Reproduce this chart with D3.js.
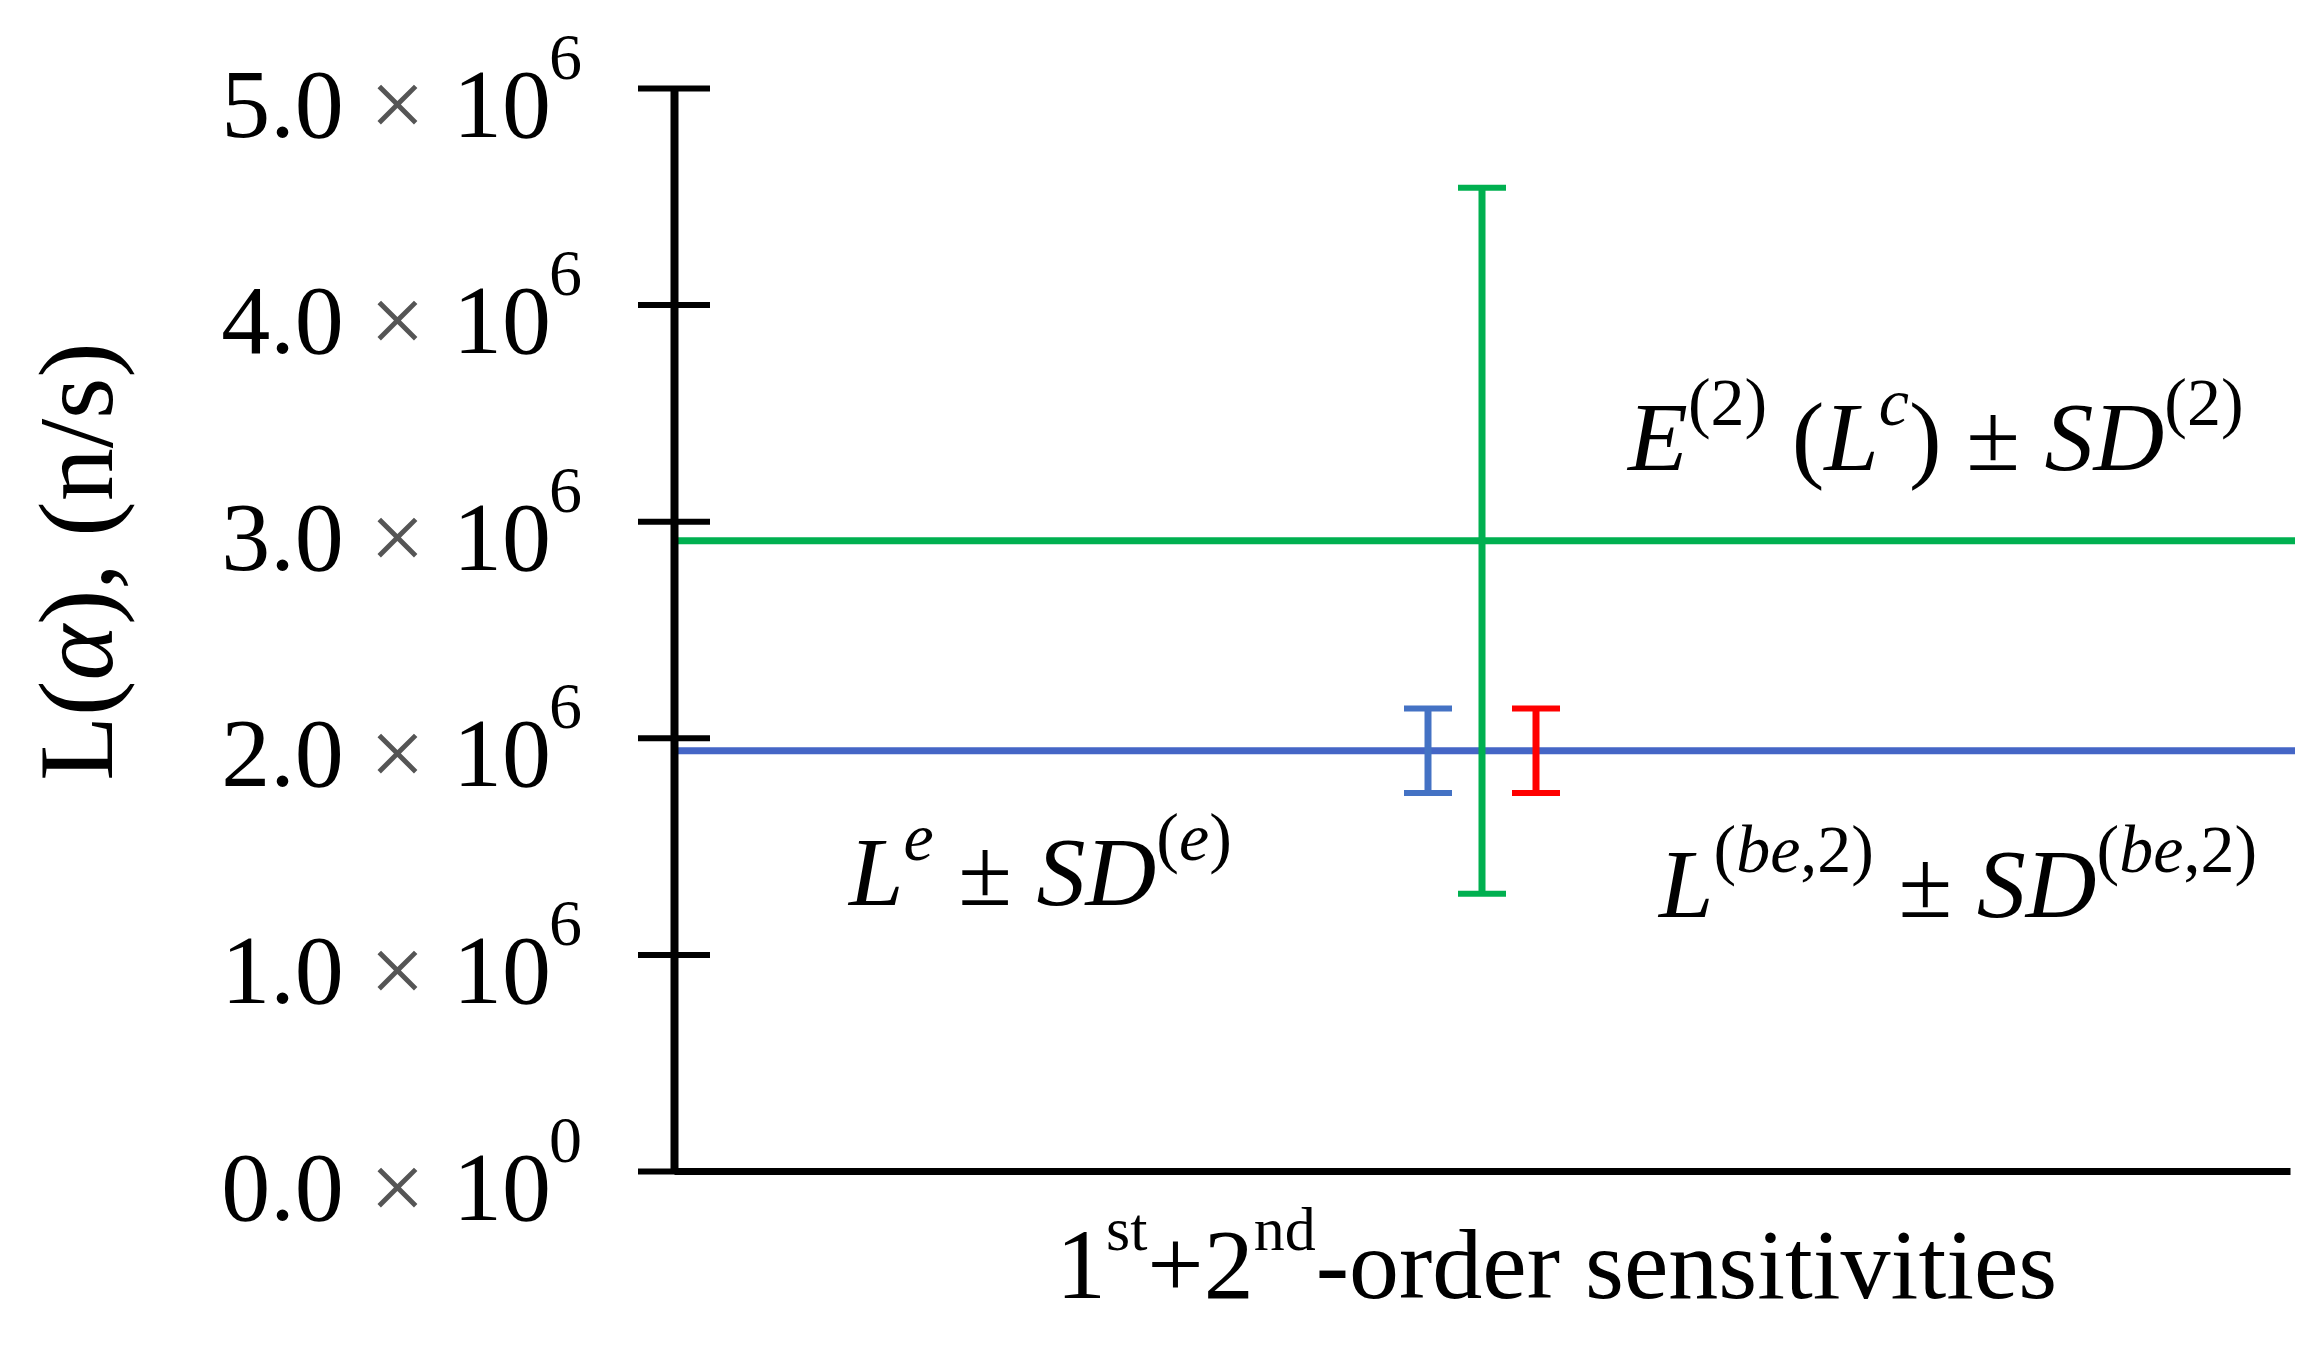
<!DOCTYPE html>
<html>
<head>
<meta charset="utf-8">
<script src="https://cdn.jsdelivr.net/npm/d3@7"></script>
<style>
  body { margin: 0; background: #fff; }
  svg { display: block; font-family: "Liberation Serif", "Times New Roman", serif; }
</style>
</head>
<body>
<svg id="chart"></svg>
<script>
// values
const categories = ["1st+2nd-order sensitivities"];
const seriesKeys = ["Le", "E2Lc", "Lbe2"];
const seriesMeans = [1.94e6, 2.91e6, 1.94e6];
const seriesSD = [0.195e6, 1.63e6, 0.195e6];
const seriesColors = ["#4472C4", "#00B050", "#FF0000"];
const refLineKeys = ["E2Lc", "Le"];
const refLineColors = ["#00B050", "#4566C6"];
const yTickValues = [0, 1e6, 2e6, 3e6, 4e6, 5e6];
const yTickMantissa = ["0.0", "1.0", "2.0", "3.0", "4.0", "5.0"];
const yTickExponent = ["0", "6", "6", "6", "6", "6"];

// label pieces: [text, italic, superscript]
const labelE2 = [["E", 1, 0], ["(2)", 0, 1], [" (", 0, 0], ["L", 1, 0], ["c", 1, 1], [")", 0, 0], [" ± ", 0, 0], ["SD", 1, 0], ["(2)", 0, 1]];
const labelLe = [["L", 1, 0], ["e", 1, 1], [" ± ", 0, 0], ["SD", 1, 0], ["(", 0, 1], ["e", 1, 1], [")", 0, 1]];
const labelLbe = [["L", 1, 0], ["(", 0, 1], ["be", 1, 1], [",2)", 0, 1], [" ± ", 0, 0], ["SD", 1, 0], ["(", 0, 1], ["be", 1, 1], [",2)", 0, 1]];

const W = 2323, H = 1346;
const margin = { left: 674, right: 33, top: 88, bottom: 175 };
const width = W - margin.left - margin.right;
const height = H - margin.top - margin.bottom;

const svg = d3.select("#chart").attr("width", W).attr("height", H);
const chart = svg.append("g")
  .attr("transform", "translate(" + margin.left + "," + margin.top + ")");

const xScale = d3.scaleBand().domain(categories).range([0, width]);
const xInner = d3.scalePoint().domain(seriesKeys).range([-54, 54]);
const yScale = d3.scaleLinear().domain([0, 5e6]).range([height, 0]);

const series = seriesKeys.map((k, i) => ({
  key: k, mean: seriesMeans[i], sd: seriesSD[i], color: seriesColors[i], cat: categories[0]
}));

// reference lines
chart.selectAll(".ref")
  .data(refLineKeys)
  .join("line")
  .attr("class", "ref")
  .attr("x1", 0)
  .attr("x2", width + 5)
  .attr("y1", k => yScale(seriesMeans[seriesKeys.indexOf(k)]))
  .attr("y2", k => yScale(seriesMeans[seriesKeys.indexOf(k)]))
  .attr("stroke", (k, i) => refLineColors[i])
  .attr("stroke-width", 7);

// error bars
const cx = d => xScale(d.cat) + xScale.bandwidth() / 2 + xInner(d.key);
const capHalf = 24;
const bars = chart.selectAll(".err")
  .data(series)
  .join("g")
  .attr("class", "err")
  .attr("stroke", d => d.color);

bars.append("line")
  .attr("x1", cx).attr("x2", cx)
  .attr("y1", d => yScale(d.mean + d.sd))
  .attr("y2", d => yScale(d.mean - d.sd))
  .attr("stroke-width", 7);

[1, -1].forEach(s => {
  bars.append("line")
    .attr("x1", d => cx(d) - capHalf).attr("x2", d => cx(d) + capHalf)
    .attr("y1", d => yScale(d.mean + s * d.sd))
    .attr("y2", d => yScale(d.mean + s * d.sd))
    .attr("stroke-width", 6);
});

// y axis
const yAxis = chart.append("g")
  .call(d3.axisLeft(yScale).tickValues(yTickValues).tickSizeOuter(0).tickSizeInner(36).tickFormat(""));
yAxis.select(".domain").attr("stroke", "#000").attr("stroke-width", 8);
yAxis.selectAll(".tick line").attr("x1", 36).attr("stroke", "#000").attr("stroke-width", 6);
yAxis.selectAll(".tick text").remove();

const tl = yAxis.selectAll(".tick")
  .append("text")
  .attr("x", -92)
  .attr("y", 48)
  .attr("text-anchor", "end")
  .attr("fill", "#000")
  .attr("font-size", 98)
  .style("font-family", "'Liberation Serif', 'Times New Roman', serif");
tl.append("tspan").text((d, i) => yTickMantissa[i]);
tl.append("tspan").attr("fill", "#555").attr("dx", 26).text("×");
tl.append("tspan").attr("dx", 28).text("10");
tl.append("tspan").attr("font-size", 66).attr("dy", -58).attr("dx", -2).text((d, i) => yTickExponent[i]);

// x axis
const xAxis = chart.append("g")
  .attr("transform", "translate(0," + height + ")")
  .call(d3.axisBottom(xScale).tickSize(0).tickSizeOuter(0).tickFormat(""));
xAxis.select(".domain").attr("stroke", "#000").attr("stroke-width", 7);

// axis titles
const xt = chart.append("text")
  .attr("x", 382)
  .attr("y", height + 127)
  .attr("font-size", 100);
xt.append("tspan").text("1");
xt.append("tspan").attr("font-size", 62).attr("dy", -48).text("st");
xt.append("tspan").attr("dy", 48).text("+2");
xt.append("tspan").attr("font-size", 62).attr("dy", -48).text("nd");
xt.append("tspan").attr("dy", 48).text("-order sensitivities");

const yt = chart.append("text")
  .attr("transform", "translate(-562," + (height / 2 - 68) + ") rotate(-90)")
  .attr("text-anchor", "middle")
  .attr("font-size", 106);
yt.append("tspan").text("L(");
yt.append("tspan").attr("font-style", "italic").text("α");
yt.append("tspan").text("), (n/s)");

// formula annotations
function formula(parts, x, y) {
  const t = chart.append("text").attr("x", x).attr("y", y).attr("font-size", 98)
    .style("white-space", "pre");
  let raised = false;
  parts.forEach(([s, it, sup]) => {
    const ts = t.append("tspan").text(s);
    if (it) ts.attr("font-style", "italic");
    if (sup) ts.attr("font-size", 68);
    if (sup && !raised) { ts.attr("dy", -45); raised = true; }
    if (!sup && raised) { ts.attr("dy", 45); raised = false; }
  });
}
const bandMid = xScale(categories[0]) + xScale.bandwidth() / 2;
formula(labelE2, bandMid + 146, yScale(seriesMeans[1]) - 71);
formula(labelLe, bandMid - 633, yScale(seriesMeans[0]) + 154);
formula(labelLbe, bandMid + 177, yScale(seriesMeans[2]) + 166);
</script>
</body>
</html>
